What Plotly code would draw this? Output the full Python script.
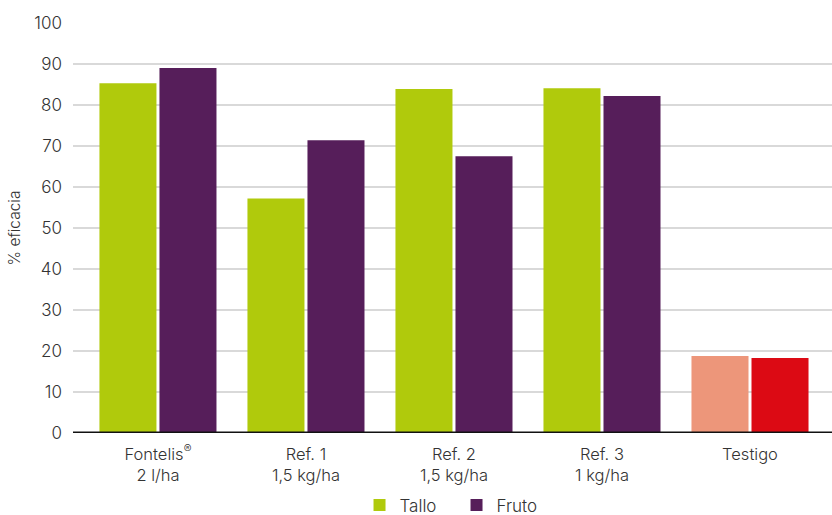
import plotly.graph_objects as go

categories = ["Fontelis<sup>®</sup><br>2 l/ha", "Ref. 1<br>1,5 kg/ha", "Ref. 2<br>1,5 kg/ha",
              "Ref. 3<br>1 kg/ha", "Testigo"]
tallo = [85.3, 57.2, 83.9, 84.1, 18.8]
fruto = [89.0, 71.4, 67.5, 82.2, 18.3]
tallo_colors = ["#B0CA0C", "#B0CA0C", "#B0CA0C", "#B0CA0C", "#ED967A"]
fruto_colors = ["#561E5A", "#561E5A", "#561E5A", "#561E5A", "#DC0A14"]
y_ticks = [0, 10, 20, 30, 40, 50, 60, 70, 80, 90, 100]

FONT = "Inter"
TXT = "#333333"

fig = go.Figure()
fig.add_trace(go.Bar(x=list(range(5)), y=tallo, name="Tallo",
                     marker=dict(color=tallo_colors, line=dict(width=0))))
fig.add_trace(go.Bar(x=list(range(5)), y=fruto, name="Fruto",
                     marker=dict(color=fruto_colors, line=dict(width=0))))

fig.update_layout(
    width=832, height=515,
    margin=dict(l=73, r=0, t=23, b=82, autoexpand=False),
    paper_bgcolor="white", plot_bgcolor="white",
    barmode="group", bargap=0.189, bargroupgap=0.05,
    font=dict(family=FONT, size=16, color=TXT, weight=300),
    showlegend=True,
    legend=dict(orientation="h", x=0.5053, xanchor="center", y=-0.177, yanchor="middle",
                entrywidth=52,
                font=dict(family=FONT, size=17, color=TXT, weight=300), traceorder="normal"),
    xaxis=dict(range=[-0.574, 4.554], tickmode="array", tickvals=list(range(5)),
               ticktext=categories, showgrid=False, zeroline=False, showline=False,
               ticks="", ticklabelstandoff=9,
               tickfont=dict(family=FONT, size=16.5, color=TXT, weight=300)),
    yaxis=dict(range=[0, 100], tickmode="array", tickvals=y_ticks,
               showgrid=True, gridcolor="#D9D9D9", gridwidth=1.5,
               zeroline=False, showline=False, ticks="", ticklabelstandoff=10,
               tickfont=dict(family=FONT, size=17, color=TXT, weight=300),
               title=dict(text="% eficacia", font=dict(family=FONT, size=15.5, color=TXT, weight=300),
                          standoff=9)),
)
fig.add_shape(type="line", xref="paper", yref="y", x0=0, x1=1, y0=0, y1=0,
              line=dict(color="#111111", width=3))

fig.write_html("out.html")
